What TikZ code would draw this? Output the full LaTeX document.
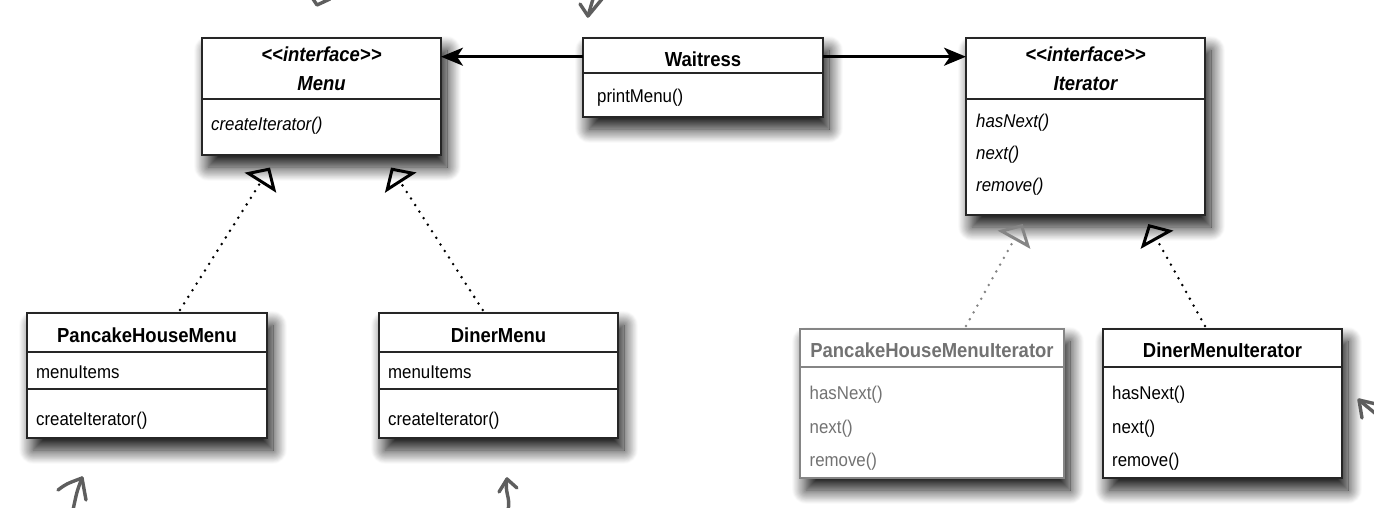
\documentclass[tikz,border=0pt]{standalone}
\usepackage{fontspec}
\setmainfont{Liberation Sans}[FakeStretch=0.91]
\usetikzlibrary{arrows.meta,shadows.blur}
\definecolor{ghost}{HTML}{858585}
\definecolor{ghosttext}{HTML}{727272}
\definecolor{scrawl}{HTML}{5E5E5E}
\newcommand\umlreg{\fontsize{18.5}{22}\selectfont}
\newcommand\umlttl{\fontsize{20.3}{24}\selectfont\bfseries}
\begin{document}
\begin{tikzpicture}[x=1pt,y=-1pt,
  umlbox/.style={draw=black!85, line width=1.4pt, fill=white, rectangle,
    anchor=north west, inner sep=0pt, outer sep=0pt,
    blur shadow={shadow xshift=6pt, shadow yshift=-12pt,
      shadow blur radius=14pt, shadow blur steps=20, shadow opacity=95}},
  ghostbox/.style={umlbox, draw=ghost},
  divline/.style={draw=black!85, line width=1.4pt},
  ghostdiv/.style={draw=ghost, line width=1.4pt},
  ttl/.style={inner sep=0pt, anchor=base, font=\umlttl},
  ittl/.style={inner sep=0pt, anchor=base, font=\umlttl\itshape},
  member/.style={inner sep=0pt, anchor=base west, font=\umlreg},
  imember/.style={inner sep=0pt, anchor=base west, font=\umlreg\itshape},
  assoc/.style={draw=black, line width=2.8pt,
    -{Stealth[length=22pt, width=18pt, inset=6pt]}},
  realize/.style={draw=black, line width=2.8pt, line cap=round,
    dash pattern=on 0pt off 7.8pt,
    -{Triangle[open, length=18pt, width=37pt, line width=3pt, line cap=butt]}},
  ghostrealize/.style={realize, draw=ghost},
  scrawlline/.style={draw=scrawl, line width=3.4pt, line cap=round, line join=round}
]
\useasboundingbox (0,0) rectangle (1374,508);

% ---------- boxes ----------
\node[umlbox, minimum width=239pt, minimum height=117pt] (menu) at (202,38) {};
\node[umlbox, minimum width=240pt, minimum height=79pt]  (waitress) at (583,38) {};
\node[umlbox, minimum width=239pt, minimum height=177pt] (iter) at (966,38) {};
\node[umlbox, minimum width=240pt, minimum height=125pt] (phm) at (27,313) {};
\node[umlbox, minimum width=239pt, minimum height=125pt] (diner) at (379,313) {};
\node[ghostbox, minimum width=264pt, minimum height=149pt] (phmi) at (800,329) {};
\node[umlbox, minimum width=239pt, minimum height=149pt] (dmi) at (1103,329) {};

% ---------- compartment dividers ----------
\draw[divline] (202,99) -- (441,99);
\draw[divline] (583,73) -- (823,73);
\draw[divline] (966,99) -- (1205,99);
\draw[divline] (27,352) -- (267,352);
\draw[divline] (27,389) -- (267,389);
\draw[divline] (379,352) -- (618,352);
\draw[divline] (379,389) -- (618,389);
\draw[ghostdiv] (800,367) -- (1064,367);
\draw[divline] (1103,367) -- (1342,367);

% ---------- texts ----------
\node[ittl] (menuS) at (321.5,62) {<{}<interface>{}>};
\node[ittl] (menuN) at (321.5,90.5) {Menu};
\node[imember] (menuM) at (211,131) {createIterator()};

\node[ttl] (waitN) at (703,67) {Waitress};
\node[member] (waitM) at (597,103) {printMenu()};

\node[ittl] (iterS) at (1085.5,62) {<{}<interface>{}>};
\node[ittl] (iterN) at (1085.5,90.5) {Iterator};
\node[imember] (iterM1) at (976,128) {hasNext()};
\node[imember] (iterM2) at (976,160) {next()};
\node[imember] (iterM3) at (976,192) {remove()};

\node[ttl] (phmN) at (147,342) {PancakeHouseMenu};
\node[member] (phmA) at (36,378) {menuItems};
\node[member] (phmM) at (36,425) {createIterator()};

\node[ttl] (dinerN) at (498.5,342) {DinerMenu};
\node[member] (dinerA) at (388,378) {menuItems};
\node[member] (dinerM) at (388,425) {createIterator()};

\node[ttl, text=ghosttext] (phmiN) at (932,357) {PancakeHouseMenuIterator};
\node[member, text=ghosttext] (phmiM1) at (809.5,399) {hasNext()};
\node[member, text=ghosttext] (phmiM2) at (809.5,433) {next()};
\node[member, text=ghosttext] (phmiM3) at (809.5,466) {remove()};

\node[ttl] (dmiN) at (1222.5,357) {DinerMenuIterator};
\node[member] (dmiM1) at (1112,399) {hasNext()};
\node[member] (dmiM2) at (1112,433) {next()};
\node[member] (dmiM3) at (1112,466) {remove()};

% ---------- associations ----------
\coordinate (wl) at (583,56.7);
\coordinate (wr) at (823,56.7);
\draw[assoc] (wl) -- (menu.east |- wl);
\draw[assoc] (wr) -- (iter.west |- wr);

% ---------- realizations ----------
\coordinate (phmTop) at (180,310);
\coordinate (dinerTop) at (482.7,310);
\coordinate (phmiTop) at (966,326);
\coordinate (dmiTop) at (1205,326);
\coordinate (menuTipL) at (270,167.5);
\coordinate (menuTipR) at (391,167.5);
\coordinate (iterTipL) at (1022.7,224);
\coordinate (iterTipR) at (1148.3,224);
\draw[realize] (phmTop) -- (menuTipL);
\draw[realize] (dinerTop) -- (menuTipR);
\draw[ghostrealize] (phmiTop) -- (iterTipL);
\draw[realize] (dmiTop) -- (iterTipR);

% ---------- cut-off hand-drawn annotation arrows ----------
\draw[scrawlline] (313,-1) -- (317,5) -- (330,-1);
\draw[scrawlline] (580,4) -- (588,16) -- (602,-1);
\draw[scrawlline] (588,16) -- (593,-1);
\draw[scrawlline] (58,490) .. controls (66,484) .. (82,478);
\draw[scrawlline] (82,478) -- (86,500);
\draw[scrawlline] (82,478) .. controls (77,491) .. (73,510);
\draw[scrawlline] (499,492) -- (507,479) -- (517,488);
\draw[scrawlline] (507,479) .. controls (504,492) and (511,498) .. (508,510);
\draw[scrawlline] (1362,418) -- (1359,400) -- (1376,404);
\draw[scrawlline] (1359,400) -- (1376,414);
\end{tikzpicture}
\end{document}
